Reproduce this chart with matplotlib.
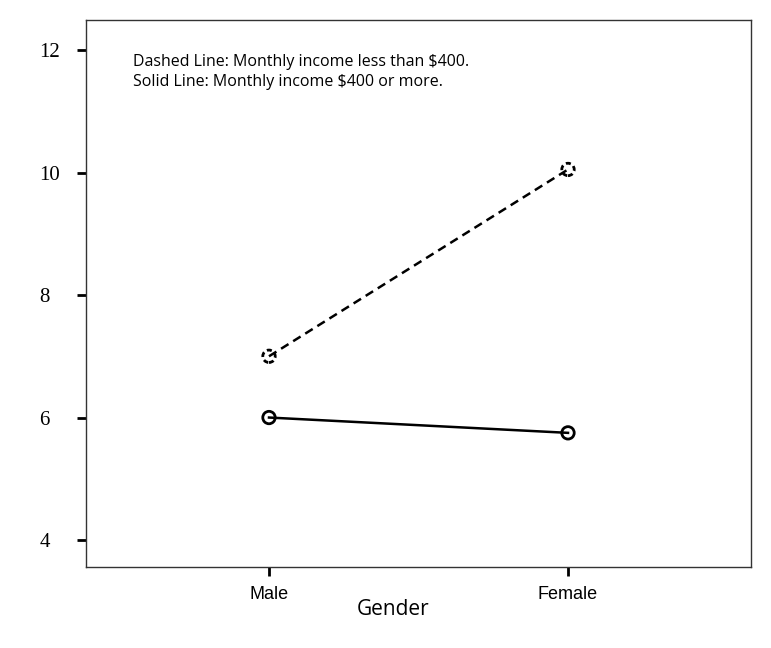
import matplotlib.pyplot as plt

genders = ["Male", "Female"]
low_income = [7.0, 10.05]
high_income = [6.0, 5.75]
y_ticks = [4, 6, 8, 10, 12]

fig = plt.figure(figsize=(7.71, 6.48), dpi=100)
ax = fig.add_axes([86 / 771, 1 - 567 / 648, 665 / 771, 547 / 648])

x = list(range(len(genders)))
ax.plot(x, low_income, color="black", linestyle=(0, (3.5, 2.2)), linewidth=1.8, zorder=2)
ax.scatter(x, low_income, s=80, facecolors="none", edgecolors="black",
           linewidths=2.0, linestyles=(0, (1.8, 1.2)), zorder=3)
ax.plot(x, high_income, color="black", linestyle="-", linewidth=1.8, zorder=2)
ax.scatter(x, high_income, s=80, facecolors="none", edgecolors="black",
           linewidths=2.0, zorder=3)

ax.set_xlim(-0.612, 1.612)
ax.set_ylim(3.56, 12.49)

ax.set_xticks(x)
ax.set_xticklabels(genders, fontfamily="Liberation Sans", fontsize=13)
ax.set_yticks(y_ticks)
ax.set_yticklabels([str(t) for t in y_ticks], fontfamily="Liberation Serif",
                   fontsize=15, ha="left")
ax.tick_params(axis="y", direction="out", length=6.5, width=2, pad=27)
ax.tick_params(axis="x", direction="out", length=6.5, width=2, pad=7)
for side in ["top", "right", "bottom", "left"]:
    ax.spines[side].set_linewidth(1.0)
    ax.spines[side].set_color("#333333")

ax.set_xlabel("Gender", fontfamily="Open Sans", fontsize=15)
ax.xaxis.set_label_coords(0.462, -0.058)

fig.text(133 / 771, 1 - 72 / 648,
         "Dashed Line: Monthly income less than $400.\nSolid Line: Monthly income $400 or more.",
         fontfamily="Open Sans", fontsize=11.5, va="center", ha="left", linespacing=1.4)

fig.savefig("out.png", dpi=100)
